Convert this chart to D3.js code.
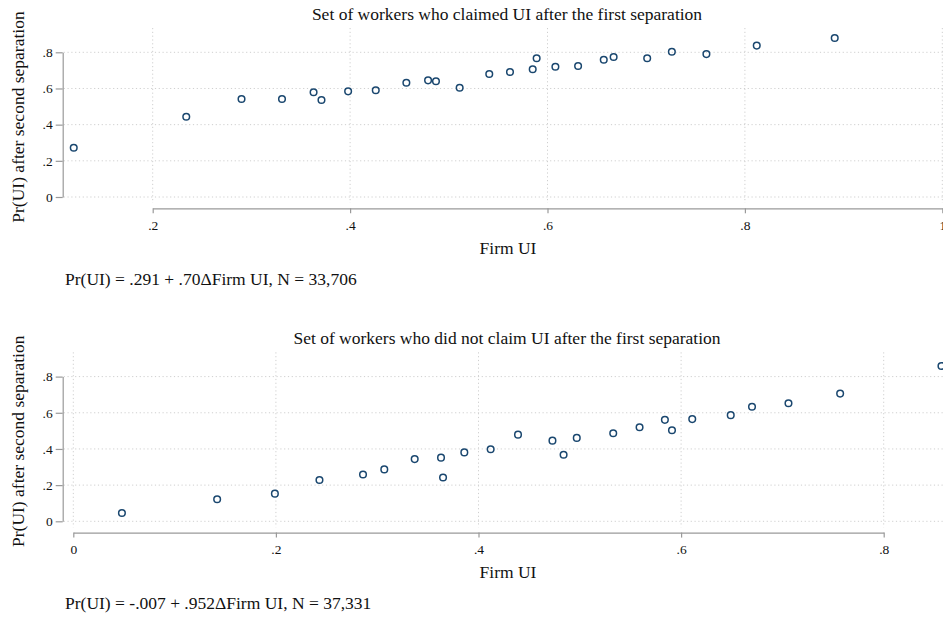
<!DOCTYPE html>
<html>
<head>
<meta charset="utf-8">
<script src="https://cdn.jsdelivr.net/npm/d3@7"></script>
<style>
  body { margin: 0; background: #fff; }
  text { font-family: "Liberation Serif", "Times New Roman", serif; fill: #111; }
  .grid line { stroke: #cfcfcf; stroke-width: 1; stroke-dasharray: 1.2, 2.6; }
  .axis path, .axis line { stroke: #9a9a9a; stroke-width: 1.2; }
  .axis text { font-size: 13.5px; font-family: "Liberation Serif", "Times New Roman", serif; }
</style>
</head>
<body>
<div id="chart"></div>
<script>
"use strict";

// binned scatter, workers who claimed UI after first separation
var claimFirmUI = [0.120, 0.234, 0.290, 0.331, 0.363, 0.371, 0.398, 0.426, 0.457, 0.479, 0.487, 0.511,
  0.541, 0.562, 0.585, 0.589, 0.608, 0.631, 0.657, 0.667, 0.701, 0.726, 0.761, 0.812, 0.891];
var claimPrUI = [0.272, 0.444, 0.542, 0.542, 0.579, 0.536, 0.584, 0.590, 0.632, 0.645, 0.640, 0.604,
  0.680, 0.691, 0.706, 0.767, 0.720, 0.724, 0.759, 0.774, 0.767, 0.803, 0.790, 0.837, 0.879];

// workers who did not claim UI after first separation
var noClaimFirmUI = [0.048, 0.142, 0.199, 0.243, 0.286, 0.307, 0.337, 0.363, 0.365, 0.386, 0.412, 0.439,
  0.473, 0.484, 0.497, 0.533, 0.559, 0.584, 0.591, 0.611, 0.649, 0.670, 0.706, 0.757, 0.857];
var noClaimPrUI = [0.046, 0.122, 0.153, 0.228, 0.259, 0.287, 0.344, 0.352, 0.242, 0.381, 0.398, 0.479,
  0.446, 0.368, 0.461, 0.487, 0.520, 0.561, 0.503, 0.565, 0.587, 0.633, 0.653, 0.706, 0.859];

var yTicks = [0, 0.2, 0.4, 0.6, 0.8];
var claimXTicks = [0.2, 0.4, 0.6, 0.8, 1];
var noClaimXTicks = [0, 0.2, 0.4, 0.6, 0.8];

var panelTitles = ["Set of workers who claimed UI after the first separation",
  "Set of workers who did not claim UI after the first separation"];
var notes = ["Pr(UI) = .291 + .70\u0394Firm UI, N = 33,706",
  "Pr(UI) = -.007 + .952\u0394Firm UI, N = 37,331"];
var xTitle = "Firm UI";
var yTitle = "Pr(UI) after second separation";

var width = 943, height = 618;

var svg = d3.select("#chart").append("svg")
  .attr("width", width)
  .attr("height", height);

// stata style: 0 -> "0", 0.2 -> ".2"
function stataFmt(d) {
  if (d === 0) return "0";
  if (d === 1) return "1";
  return String(d).replace(/^0/, "");
}

function drawPanel(top, xs, ys, xTicks, xRange, title, note) {
  var g = svg.append("g").attr("transform", "translate(0," + top + ")");

  var x = d3.scaleLinear()
    .domain([xTicks[0], xTicks[xTicks.length - 1]])
    .range(xRange);
  var y = d3.scaleLinear()
    .domain([0, 0.8])
    .range([197, 52.3]);

  var plotTop = 28, plotBottom = 203, axisLeftX = 62.7, axisBottomY = 208.3;

  // grid
  g.append("g").attr("class", "grid")
    .selectAll("line.h")
    .data(yTicks)
    .enter().append("line")
    .attr("x1", axisLeftX + 1)
    .attr("x2", width)
    .attr("y1", function(d) { return y(d); })
    .attr("y2", function(d) { return y(d); });

  g.append("g").attr("class", "grid")
    .selectAll("line.v")
    .data(xTicks)
    .enter().append("line")
    .attr("x1", function(d) { return x(d); })
    .attr("x2", function(d) { return x(d); })
    .attr("y1", plotTop)
    .attr("y2", plotBottom);

  // axes
  g.append("g").attr("class", "axis")
    .attr("transform", "translate(" + axisLeftX + ",0)")
    .call(d3.axisLeft(y).tickValues(yTicks).tickFormat(stataFmt).tickSize(7).tickSizeOuter(0).tickPadding(3));

  g.append("g").attr("class", "axis")
    .attr("transform", "translate(0," + axisBottomY + ")")
    .call(d3.axisBottom(x).tickValues(xTicks).tickFormat(stataFmt).tickSize(5).tickSizeOuter(0).tickPadding(7));

  svg.selectAll(".axis").attr("font-family", null).attr("font-size", null);

  // points
  var pts = xs.map(function(v, i) { return { x: v, y: ys[i] }; });
  g.append("g")
    .selectAll("circle")
    .data(pts)
    .enter().append("circle")
    .attr("cx", function(d) { return x(d.x); })
    .attr("cy", function(d) { return y(d.y); })
    .attr("r", 3.3)
    .style("fill", "none")
    .style("stroke", "#1a476f")
    .style("stroke-width", 1.5);

  // titles
  g.append("text")
    .attr("x", 507)
    .attr("y", 20)
    .attr("text-anchor", "middle")
    .style("font-size", "17.5px")
    .text(title);

  g.append("text")
    .attr("x", 508)
    .attr("y", 254)
    .attr("text-anchor", "middle")
    .style("font-size", "17.5px")
    .text(xTitle);

  g.append("text")
    .attr("transform", "translate(24," + 117 + ") rotate(-90)")
    .attr("text-anchor", "middle")
    .style("font-size", "17.5px")
    .text(yTitle);

  g.append("text")
    .attr("x", 65)
    .attr("y", 285)
    .style("font-size", "17.5px")
    .text(note);
}

drawPanel(0, claimFirmUI, claimPrUI, claimXTicks, [152.7, 942.3], panelTitles[0], notes[0]);
drawPanel(324.3, noClaimFirmUI, noClaimPrUI, noClaimXTicks, [73.3, 883.7], panelTitles[1], notes[1]);
</script>
</body>
</html>
